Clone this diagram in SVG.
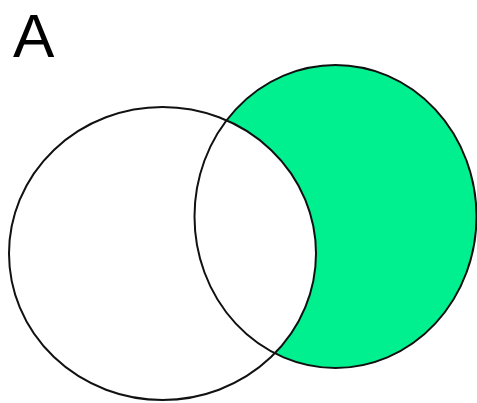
<svg xmlns="http://www.w3.org/2000/svg" width="477" height="403" viewBox="0 0 477 403">
<style>
.ol{fill:none;stroke:#111;stroke-width:2}
.lbl{font-family:"Liberation Sans",Arial,sans-serif;font-size:62px;fill:#000}
</style>
<rect width="477" height="403" fill="#fff"/>
<g id="setB"><ellipse cx="335.5" cy="216.5" rx="141" ry="151.5" fill="#00F090"/></g>
<g id="setA"><ellipse cx="162.5" cy="253.5" rx="153.5" ry="146.5" fill="#fff"/></g>
<g id="outlines">
<ellipse class="ol" cx="335.5" cy="216.5" rx="141" ry="151.5"/>
<ellipse class="ol" cx="162.5" cy="253.5" rx="153.5" ry="146.5"/>
</g>
<g id="label"><text class="lbl" x="13" y="57">A</text></g>
</svg>
